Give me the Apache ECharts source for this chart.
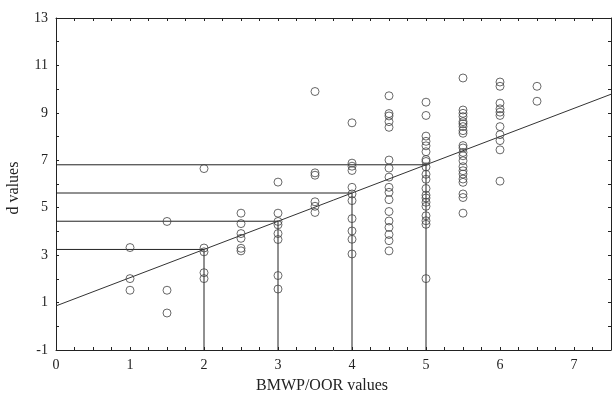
<!DOCTYPE html>
<html>
<head>
<meta charset="utf-8">
<script src="https://cdn.jsdelivr.net/npm/echarts@6/dist/echarts.min.js"></script>
<style>
  html, body { margin: 0; padding: 0; background: #fff; }
  #chart { width: 614px; height: 396px; }
</style>
</head>
<body>
<div id="chart"></div>
<script>
// BMWP/OOR score groups and the d values observed in each
const bmwpValues = [1, 1.5, 2, 2.5, 3, 3.5, 4, 4.5, 5, 5.5, 6, 6.5]
const dValues = [
  [3.32, 2.01, 1.52],
  [4.42, 1.52, 0.56],
  [6.65, 3.30, 3.14, 2.26, 2.01],
  [4.77, 4.33, 3.91, 3.71, 3.29, 3.18],
  [6.08, 4.77, 4.42, 4.28, 3.91, 3.66, 2.14, 1.57],
  [9.90, 6.47, 6.37, 5.25, 5.06, 4.80],
  [8.58, 6.88, 6.75, 6.57, 5.86, 5.58, 5.30, 4.54, 4.02, 3.67, 3.05],
  [9.72, 8.97, 8.87, 8.63, 8.39, 7.01, 6.67, 6.29, 5.86, 5.65, 5.34, 4.84, 4.44, 4.17, 3.87, 3.61, 3.18],
  [9.45, 8.89, 8.02, 7.80, 7.61, 7.36, 7.03, 6.95, 6.72, 6.41, 6.20, 5.81, 5.53, 5.41, 5.23, 5.06, 4.66, 4.45, 4.30, 2.01],
  [10.47, 9.12, 8.98, 8.84, 8.63, 8.54, 8.42, 8.25, 8.14, 7.62, 7.52, 7.33, 7.19, 6.98, 6.73, 6.56, 6.42, 6.21, 6.07, 5.58, 5.43, 4.77],
  [10.30, 10.12, 9.41, 9.17, 9.03, 8.89, 8.42, 8.08, 7.83, 7.44, 6.12],
  [10.12, 9.49]
]
// fitted line d = a + b * BMWP
const intercept = 0.86
const slope = 1.19
const lineRange = [0, 7.5]
// reading guides drawn at these BMWP values
const guideX = [2, 3, 4, 5]

const yMin = -1
const fit = x => intercept + slope * x

let points = []
bmwpValues.forEach((x, i) => {
  dValues[i].forEach(d => points.push([x, d]))
})

let guideSeries = guideX.map(x => ({
  type: 'line',
  data: [[0, fit(x)], [x, fit(x)], [x, yMin]],
  symbol: 'none',
  silent: true,
  lineStyle: { color: '#222', width: 1 },
  z: 1
}))

const font = { fontFamily: 'Liberation Serif', fontSize: 14, color: '#222' }
const tickStyle = { lineStyle: { color: '#222', width: 1 } }

function xAx (pos, showLabel) {
  return {
    type: 'value',
    position: pos,
    min: 0,
    max: 7.5,
    interval: 1,
    axisLine: { show: true, onZero: false, lineStyle: { color: '#222', width: 1 } },
    axisTick: { show: true, inside: true, length: 3, ...tickStyle },
    minorTick: { show: true, splitNumber: 4, length: 3, ...tickStyle },
    axisLabel: {
      show: showLabel,
      ...font,
      margin: 8,
      formatter: v => (v % 1 === 0 ? String(v) : '')
    },
    splitLine: { show: false }
  }
}

function yAx (pos, showLabel) {
  return {
    type: 'value',
    position: pos,
    min: -1,
    max: 13,
    interval: 2,
    axisLine: { show: true, onZero: false, lineStyle: { color: '#222', width: 1 } },
    axisTick: { show: true, inside: true, length: 3, ...tickStyle },
    minorTick: { show: true, splitNumber: 2, length: 3, ...tickStyle },
    axisLabel: { show: showLabel, ...font, margin: 8 },
    splitLine: { show: false }
  }
}

let option = {
  backgroundColor: '#fff',
  animation: false,
  grid: { left: 56, right: 2, top: 18, bottom: 46 },
  xAxis: [xAx('bottom', true), xAx('top', false)],
  yAxis: [yAx('left', true), yAx('right', false)],
  graphic: [
    {
      type: 'text',
      x: 322,
      y: 386,
      style: {
        text: 'BMWP/OOR values',
        fontFamily: 'Liberation Serif',
        fontSize: 16,
        fill: '#222',
        align: 'center',
        verticalAlign: 'middle'
      }
    },
    {
      type: 'text',
      x: 14,
      y: 188,
      rotation: Math.PI / 2,
      style: {
        text: 'd values',
        fontFamily: 'Liberation Serif',
        fontSize: 16,
        fill: '#222',
        align: 'center',
        verticalAlign: 'middle'
      }
    }
  ],
  series: [
    ...guideSeries,
    {
      type: 'line',
      data: lineRange.map(x => [x, fit(x)]),
      symbol: 'none',
      silent: true,
      lineStyle: { color: '#333', width: 1 },
      z: 2
    },
    {
      type: 'scatter',
      data: points,
      symbol: 'circle',
      symbolSize: 8,
      itemStyle: { color: 'rgba(255,255,255,0)', borderColor: '#444', borderWidth: 1 },
      z: 3
    }
  ]
}

let chart = echarts.init(document.getElementById('chart'))
chart.setOption(option)
</script>
</body>
</html>
